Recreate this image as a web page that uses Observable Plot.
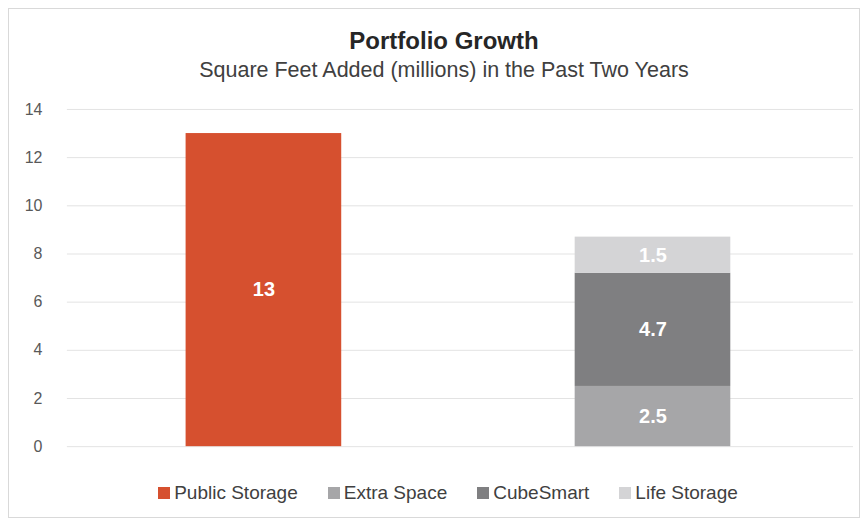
<!DOCTYPE html>
<html>
<head>
<meta charset="utf-8">
<script src="https://cdn.jsdelivr.net/npm/d3@7"></script>
<script src="https://cdn.jsdelivr.net/npm/@observablehq/plot@0.6"></script>
<style>
  html, body { margin: 0; padding: 0; background: #fff; }
  body { font-family: "Liberation Sans", Arial, sans-serif; }
  #frame { position: absolute; left: 8px; top: 8px; width: 852px; height: 510px; border: 1px solid #d9d9d9; box-sizing: border-box; background: #fff; }
  #title { position: absolute; left: 10px; width: 100%; top: 18px; text-align: center; font-weight: bold; font-size: 24px; color: #262626; }
  #subtitle { position: absolute; left: 10px; width: 100%; top: 49px; text-align: center; font-size: 21.5px; color: #404040; }
  #chart { position: absolute; left: 0; top: 87px; }
  #legend { position: absolute; left: 14px; width: 100%; top: 473px; display: flex; justify-content: center; gap: 30px; font-size: 19px; color: #404040; }
  .item { display: flex; align-items: center; }
  .sw { width: 12px; height: 12px; margin-right: 4px; }
</style>
</head>
<body>
<div id="frame">
  <div id="title">Portfolio Growth</div>
  <div id="subtitle">Square Feet Added (millions) in the Past Two Years</div>
  <div id="chart"></div>
  <div id="legend"></div>
</div>
<script>
const groups = ["Public Storage", "Peers"];
const companies = ["Public Storage", "Extra Space", "CubeSmart", "Life Storage"];
const companyGroup = ["Public Storage", "Peers", "Peers", "Peers"];
const values = [13, 2.5, 4.7, 1.5];
const colors = ["#D6502F", "#A6A6A8", "#7F7F81", "#D4D4D6"];
const yTicks = [0, 2, 4, 6, 8, 10, 12, 14];

const data = companies.map((c, i) => ({company: c, group: companyGroup[i], value: values[i]}));

const chart = Plot.plot({
  width: 852,
  height: 367,
  marginLeft: 58,
  marginRight: 6,
  marginTop: 13,
  marginBottom: 16,
  style: {fontFamily: "'Liberation Sans', Arial, sans-serif", fontSize: "16px", color: "#595959", background: "transparent"},
  x: {domain: groups, axis: null, paddingInner: 0.6, paddingOuter: 0.31, align: 0.49},
  y: {domain: [0, 14], ticks: yTicks, tickSize: 0, tickPadding: 26, label: null, grid: false},
  color: {domain: companies, range: colors},
  marks: [
    Plot.ruleY(yTicks, {stroke: "#e3e3e3", strokeWidth: 1}),
    Plot.barY(data, Plot.stackY({x: "group", y: "value", fill: "company", order: companies})),
    Plot.text(data, Plot.stackY({x: "group", y: "value", z: "company", order: companies, text: d => String(d.value), fill: "white", fontWeight: "bold", fontSize: 20})),
    Plot.axisY({ticks: yTicks, tickSize: 0, tickPadding: 25, fontSize: 16, fill: "#595959", label: null})
  ]
});
document.getElementById("chart").appendChild(chart);

const legend = document.getElementById("legend");
companies.forEach((c, i) => {
  const item = document.createElement("div");
  item.className = "item";
  const sw = document.createElement("span");
  sw.className = "sw";
  sw.style.background = colors[i];
  const t = document.createElement("span");
  t.textContent = c;
  item.appendChild(sw);
  item.appendChild(t);
  legend.appendChild(item);
});
</script>
</body>
</html>
